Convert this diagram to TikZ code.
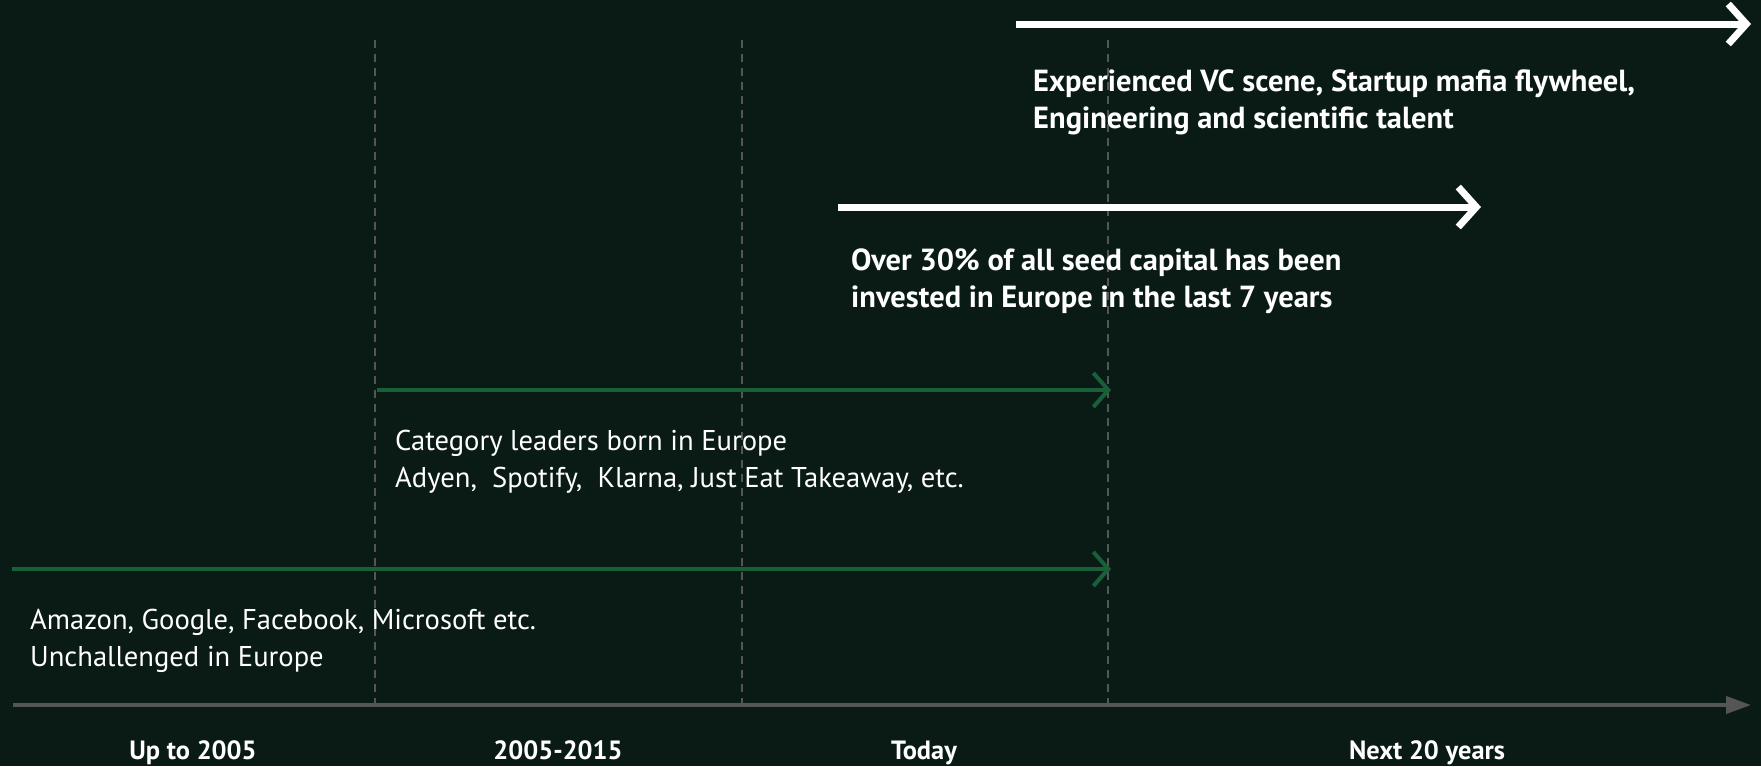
\documentclass[tikz,border=0pt]{standalone}
\usepackage{fontspec}
\setmainfont{PT Sans}
\usetikzlibrary{arrows.meta}
\definecolor{bg}{HTML}{0A1B16}
\definecolor{grn}{HTML}{18603A}
\definecolor{axgray}{HTML}{555555}
\begin{document}
\begin{tikzpicture}[x=1pt,y=-1pt,
  reg/.style={font=\fontsize{28.6}{37}\selectfont, text=white, align=left, inner sep=0pt, anchor=base west},
  bld/.style={font=\fontsize{30.5}{37}\selectfont\bfseries, text=white, align=left, inner sep=0pt, anchor=base west},
  lbl/.style={font=\fontsize{26.4}{28}\selectfont\bfseries, text=white, inner sep=0pt, anchor=base},
  tickline/.style={axgray, line width=1.5pt, dash pattern=on 8pt off 6pt},
  warrow/.style={white, line width=7pt, -{Straight Barb[length=18pt,width=40pt]}},
  garrow/.style={grn, line width=4pt, -{Straight Barb[length=15pt,width=34pt]}},
]
\fill[bg] (0,0) rectangle (1761,766);
\useasboundingbox (0,0) rectangle (1761,766);
% ticks
\coordinate (t1a) at (375,40); \coordinate (t1b) at (375,705);
\coordinate (t2a) at (742,40); \coordinate (t2b) at (742,705);
\coordinate (t3a) at (1108,40); \coordinate (t3b) at (1108,705);
\draw[tickline] (t1a) -- (t1b);
\draw[tickline] (t2a) -- (t2b);
\draw[tickline] (t3a) -- (t3b);
% axis
\coordinate (axs) at (13,705); \coordinate (axe) at (1751,705);
\draw[axgray, line width=4pt, -{Triangle[length=25pt,width=17pt]}] (axs) -- (axe);
% arrows
\coordinate (w1s) at (1016,24); \coordinate (w1e) at (1751,24);
\draw[warrow] (w1s) -- (w1e);
\coordinate (w2s) at (838,207); \coordinate (w2e) at (1481,207);
\draw[warrow] (w2s) -- (w2e);
\coordinate (g1s) at (377,390); \coordinate (g1e) at (1111,390);
\draw[garrow] (g1s) -- (g1e);
\coordinate (g2s) at (12,569); \coordinate (g2e) at (1111,569);
\draw[garrow] (g2s) -- (g2e);
% texts
\node[bld] (txt1) at (1033,128) {Experienced VC scene, Startup mafia flywheel,\\Engineering and scientific talent};
\node[bld] (txt2) at (851,307) {Over 30\% of all seed capital has been\\invested in Europe in the last 7 years};
\node[reg] (txt3) at (395,487) {Category leaders born in Europe\\Adyen,\ \ Spotify,\ \ Klarna, Just Eat Takeaway, etc.};
\node[reg] (txt4) at (30,666) {Amazon, Google, Facebook, Microsoft etc.\\Unchallenged in Europe};
% labels
\node[lbl] (l1) at (193,759) {Up to 2005};
\node[lbl] (l2) at (558,759) {2005-2015};
\node[lbl] (l3) at (924,759) {Today};
\node[lbl] (l4) at (1427,759) {Next 20 years};
\end{tikzpicture}
\end{document}
